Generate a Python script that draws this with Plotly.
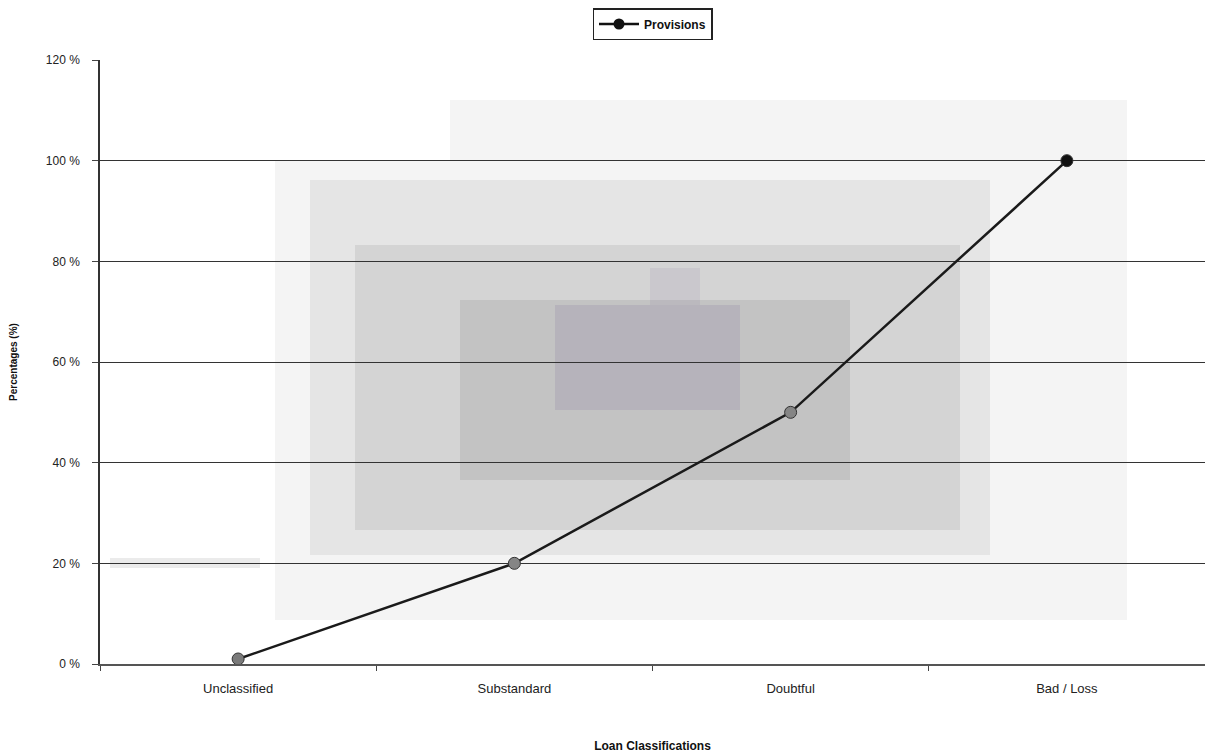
import plotly.graph_objects as go

# Loan classification provisioning levels
categories = ["Unclassified", "Substandard", "Doubtful", "Bad / Loss"]
provisions = [1, 20, 50, 100]
marker_colors = ["#7a7a7a", "#858585", "#858585", "#111111"]
y_ticks = [0, 20, 40, 60, 80, 100, 120]
y_tick_labels = ["0 %", "20 %", "40 %", "60 %", "80 %", "100 %", "120 %"]

FONT = "Liberation Sans, Arial, sans-serif"

fig = go.Figure()
fig.add_trace(go.Scatter(
    x=categories, y=provisions, name="Provisions",
    mode="lines+markers", showlegend=False,
    line=dict(color="#1a1a1a", width=2.5),
    marker=dict(size=12, color=marker_colors, line=dict(color="#333", width=1)),
))
# Legend entry drawn with the solid black symbol
fig.add_trace(go.Scatter(
    x=[None], y=[None], name="Provisions", mode="lines+markers",
    line=dict(color="#111", width=2.5),
    marker=dict(size=11, color="#111"),
))

# Halftone-style grey shading behind the plot, as layered translucent boxes
L, R, T, B = 100, 1205, 60, 664
def box(x0, y0, x1, y1, color):
    return dict(type="rect", xref="x domain", yref="y domain", layer="below",
                x0=(x0 - L) / (R - L), x1=(x1 - L) / (R - L),
                y0=(B - y1) / (B - T), y1=(B - y0) / (B - T),
                line=dict(width=0), fillcolor=color)

shapes = [
    box(450, 100, 1127, 620, "rgba(120,120,120,0.08)"),
    box(275, 160, 450, 620, "rgba(120,120,120,0.08)"),
    box(110, 558, 260, 568, "rgba(120,120,120,0.15)"),
    box(310, 180, 990, 555, "rgba(110,110,110,0.11)"),
    box(355, 245, 960, 530, "rgba(100,100,100,0.13)"),
    box(460, 300, 850, 480, "rgba(90,90,90,0.14)"),
    box(555, 305, 740, 410, "rgba(120,100,150,0.16)"),
    box(650, 268, 700, 305, "rgba(120,100,150,0.10)"),
]

fig.update_layout(
    width=1205, height=753,
    margin=dict(l=L, r=1205 - R, t=T, b=753 - B),
    paper_bgcolor="white", plot_bgcolor="rgba(0,0,0,0)",
    font=dict(family=FONT, size=12, color="#222"),
    shapes=shapes,
    showlegend=True,
    legend=dict(
        x=0.5, xanchor="center", y=(B - 8) / (B - T), yanchor="top",
        orientation="h", bgcolor="white", bordercolor="#222", borderwidth=1.5,
        font=dict(family=FONT, size=12, color="#111", weight="bold"),
        itemwidth=40, tracegroupgap=0,
    ),
    xaxis=dict(
        type="category", range=[-0.5, 3.5], automargin=False,
        showgrid=False, showline=True, linecolor="#555", linewidth=1.5,
        ticks="outside", tickson="boundaries", ticklen=5, tickcolor="#444",
        ticklabelstandoff=12,
        tickfont=dict(family=FONT, size=13, color="#222"),
        title=dict(text="<b>Loan Classifications</b>", standoff=48,
                   font=dict(family=FONT, size=12, color="#111")),
    ),
    yaxis=dict(
        range=[0, 120], tickvals=y_ticks, ticktext=y_tick_labels,
        automargin=False,
        showgrid=True, gridcolor="#333", gridwidth=1,
        showline=True, linecolor="#333", linewidth=1.5,
        ticks="outside", ticklen=6, tickcolor="#444",
        zeroline=False, ticklabelstandoff=10,
        tickfont=dict(family=FONT, size=12, color="#222"),
        title=dict(text="<b>Percentages (%)</b>", standoff=26,
                   font=dict(family=FONT, size=10, color="#111")),
    ),
)

fig.write_html("out.html")
